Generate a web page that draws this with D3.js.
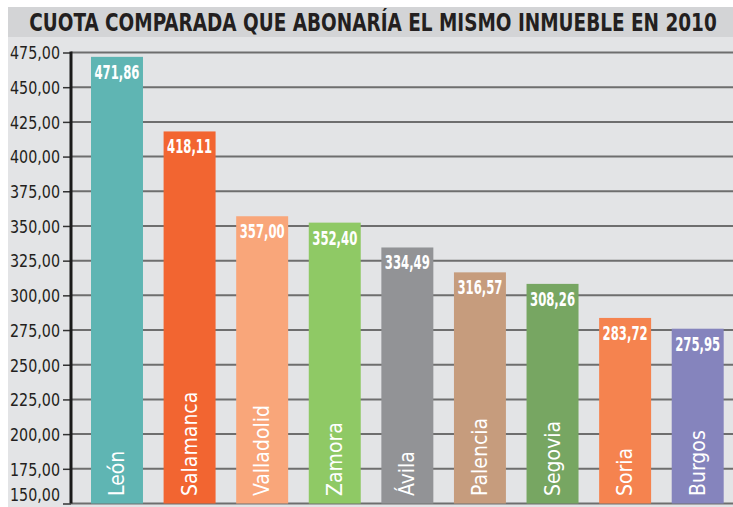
<!DOCTYPE html>
<html>
<head>
<meta charset="utf-8">
<script src="https://cdn.jsdelivr.net/npm/d3@7"></script>
<style>
  body { margin: 0; background: #fff; }
  svg { display: block; }
  .cond { font-family: "Liberation Sans Narrow", "DejaVu Sans Condensed", "Roboto", sans-serif; }
</style>
</head>
<body>
<svg id="chart" width="733" height="507"></svg>
<script>
// data
const title = "CUOTA COMPARADA QUE ABONARÍA EL MISMO INMUEBLE EN 2010";
const cities = ["León", "Salamanca", "Valladolid", "Zamora", "Ávila", "Palencia", "Segovia", "Soria", "Burgos"];
const cuota = [471.86, 418.11, 357.00, 352.40, 334.49, 316.57, 308.26, 283.72, 275.95];
const barColors = ["#5fb5b3", "#f26531", "#f9a67a", "#8fc965", "#929396", "#c69c7d", "#77a662", "#f5834f", "#8584bd"];
const yTicks = [150, 175, 200, 225, 250, 275, 300, 325, 350, 375, 400, 425, 450, 475];

const es = d3.formatLocale({ decimal: ",", thousands: ".", grouping: [3], currency: ["", " €"] });
const fmt = es.format(".2f");

const svg = d3.select("#chart");
const W = 733, H = 507;

// squeeze a text horizontally (condensed look) around its own x
function fitWidth(sel, maxW) {
  sel.each(function () {
    const w = this.getComputedTextLength();
    if (w > maxW) {
      const s = maxW / w;
      const x = +this.getAttribute("x") || 0;
      d3.select(this).attr("transform", `translate(${x},0) scale(${s},1) translate(${-x},0)`);
    }
  });
}

// backgrounds
svg.append("rect").attr("x", 8).attr("y", 7).attr("width", W - 8).attr("height", H - 7).attr("fill", "#e3e4e6");
svg.append("rect").attr("x", 8).attr("y", 7).attr("width", W - 8).attr("height", 30).attr("fill", "#d3d4d6");

svg.append("text")
  .attr("class", "cond")
  .attr("x", 373).attr("y", 31)
  .attr("text-anchor", "middle")
  .attr("font-size", 24).attr("font-weight", "bold")
  .attr("fill", "#231f20")
  .text(title)
  .call(fitWidth, 688);

const y = d3.scaleLinear().domain([150, 475]).range([503.5, 52.5]);
const x = d3.scaleBand().domain(cities).range([80.7, 734]).paddingInner(0.284).paddingOuter(0.142);

const axisX = 71;

// gridlines
svg.append("g")
  .selectAll("line")
  .data(yTicks)
  .join("line")
  .attr("x1", axisX).attr("x2", W)
  .attr("y1", d => y(d)).attr("y2", d => y(d))
  .attr("stroke", "#6e6e6e").attr("stroke-width", 2);

// y axis
const yAxis = svg.append("g")
  .attr("transform", `translate(${axisX},0)`)
  .call(d3.axisLeft(y).tickValues(yTicks).tickFormat(fmt).tickSize(8).tickPadding(3));
yAxis.select(".domain").remove();
yAxis.selectAll(".tick line").attr("stroke", "#333").attr("stroke-width", 1.5);
yAxis.selectAll(".tick text")
  .attr("class", "cond")
  .attr("font-size", 18)
  .attr("fill", "#231f20")
  .attr("dy", d => d === 150 ? "-0.15em" : "0.35em")
  .call(fitWidth, 50);

svg.append("line")
  .attr("x1", axisX).attr("x2", axisX)
  .attr("y1", y(475) - 1).attr("y2", y(150))
  .attr("stroke", "#1a1a1a").attr("stroke-width", 3);

// bars
const bars = svg.append("g")
  .selectAll("g")
  .data(cities.map((c, i) => ({ city: c, value: cuota[i], color: barColors[i] })))
  .join("g");

bars.append("rect")
  .attr("x", d => x(d.city))
  .attr("y", d => y(d.value))
  .attr("width", x.bandwidth())
  .attr("height", d => y(150) - y(d.value))
  .attr("fill", d => d.color);

bars.append("text")
  .attr("class", "cond")
  .attr("x", d => x(d.city) + x.bandwidth() / 2)
  .attr("y", d => y(d.value) + 22)
  .attr("text-anchor", "middle")
  .attr("font-size", 20).attr("font-weight", "bold")
  .attr("fill", "#fff")
  .text(d => fmt(d.value))
  .call(fitWidth, 45);

bars.append("text")
  .attr("class", "cond")
  .attr("transform", d => `translate(${x(d.city) + x.bandwidth() / 2 + 7},496) rotate(-90)`)
  .attr("font-size", 21)
  .attr("fill", "#fff")
  .text(d => d.city);
</script>
</body>
</html>
